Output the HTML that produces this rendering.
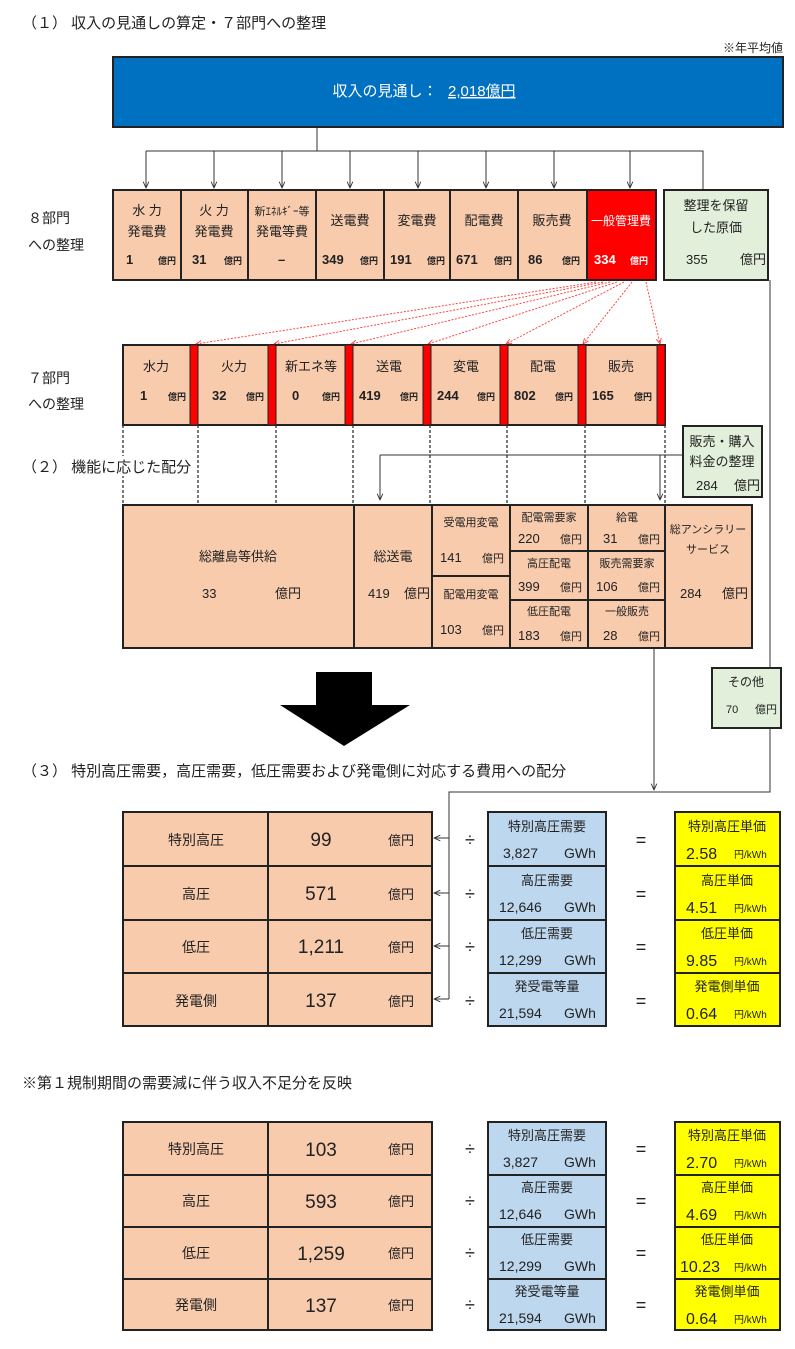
<!DOCTYPE html>
<html><head><meta charset="utf-8"><style>
body{margin:0;background:#fff;}
svg text{font-family:"Liberation Sans","Noto Sans CJK JP",sans-serif;fill:#222;}
</style></head><body>
<svg width="795" height="1344" viewBox="0 0 795 1344" xmlns="http://www.w3.org/2000/svg">
<defs>
<marker id="ar" viewBox="0 0 10 10" refX="9" refY="5" markerWidth="7" markerHeight="7" orient="auto"><path d="M0,1 L9,5 L0,9" fill="none" stroke="#333" stroke-width="1.3"/></marker>
<marker id="rr" viewBox="0 0 10 10" refX="9" refY="5" markerWidth="7" markerHeight="7" orient="auto"><path d="M0,1 L9,5 L0,9" fill="none" stroke="#f33" stroke-width="1.3"/></marker>
</defs>
<text x="22" y="28" font-size="15">（１） 収入の見通しの算定・７部門への整理</text>
<text x="783" y="52" font-size="12" text-anchor="end">※年平均値</text>
<rect x="113" y="57" width="670" height="70" fill="#0070c0" stroke="#222" stroke-width="2"/>
<text x="385" y="96" font-size="15" text-anchor="middle" style="fill:#fff">収入の見通し：</text>
<text x="448" y="96" font-size="15" style="fill:#fff" text-decoration="underline">2,018億円</text>
<g stroke="#333" stroke-width="1" fill="none">
<path d="M317,127 V151 M146,151 H703 V190"/>
</g>
<g stroke="#333" stroke-width="1" fill="none" marker-end="url(#ar)">
<path d="M146,151 V188"/><path d="M214,151 V188"/><path d="M282,151 V188"/><path d="M350,151 V188"/><path d="M418,151 V188"/><path d="M486,151 V188"/><path d="M554,151 V188"/><path d="M630,151 V188"/>
</g>
<!-- 8 depts -->
<g stroke="#222" stroke-width="2">
<rect x="113" y="190" width="474" height="90" fill="#f8cbad"/>
<rect x="587" y="190" width="69" height="90" fill="#ff0000"/>
<path d="M181,190 V280 M248,190 V280 M316,190 V280 M384,190 V280 M450,190 V280 M518,190 V280"/>
<rect x="664" y="190" width="104" height="90" fill="#e2efda"/>
</g>
<text x="28" y="223" font-size="14">８部門</text>
<text x="28" y="250" font-size="14">への整理</text>
<g font-size="13" text-anchor="middle">
<text x="147" y="215">水 力</text><text x="147" y="236">発電費</text>
<text x="214" y="215">火 力</text><text x="214" y="236">発電費</text>
<text x="282" y="215" font-size="11">新ｴﾈﾙｷﾞｰ等</text><text x="282" y="236">発電等費</text>
<text x="350" y="225">送電費</text><text x="417" y="225">変電費</text><text x="484" y="225">配電費</text><text x="552" y="225">販売費</text>
<text x="621" y="225" font-size="12" style="fill:#fff">一般管理費</text>
<text x="716" y="210">整理を保留</text><text x="716" y="232">した原価</text>
</g>
<g font-size="13" font-weight="bold">
<text x="126" y="264">1</text><text x="192" y="264">31</text><text x="278" y="264">–</text><text x="322" y="264">349</text><text x="390" y="264">191</text><text x="456" y="264">671</text><text x="528" y="264">86</text><text x="594" y="264" style="fill:#fff">334</text>
</g>
<g font-size="9" font-weight="bold">
<text x="158" y="264">億円</text><text x="224" y="264">億円</text><text x="360" y="264">億円</text><text x="427" y="264">億円</text><text x="494" y="264">億円</text><text x="562" y="264">億円</text><text x="630" y="264" style="fill:#fff">億円</text>
</g>
<text x="686" y="264" font-size="13">355</text><text x="740" y="264" font-size="13">億円</text>
<!-- red dotted arrows -->
<g stroke="#f33" stroke-width="0.9" stroke-dasharray="2,1.5" fill="none" marker-end="url(#rr)">
<path d="M596,282 L196,344"/><path d="M603,282 L274,344"/><path d="M610,282 L351,344"/><path d="M617,282 L428,344"/><path d="M624,282 L506,344"/><path d="M632,282 L583,344"/><path d="M646,282 L660,344"/>
</g>
<!-- 7 depts -->
<text x="28" y="383" font-size="14">７部門</text>
<text x="28" y="409" font-size="14">への整理</text>
<g stroke="#222" stroke-width="2">
<rect x="123" y="345" width="542" height="80" fill="#f8cbad"/>
</g>
<g fill="#ff0000" stroke="#222" stroke-width="1">
<rect x="190" y="345" width="8" height="80"/><rect x="268" y="345" width="8" height="80"/><rect x="345" y="345" width="8" height="80"/><rect x="423" y="345" width="8" height="80"/><rect x="500" y="345" width="8" height="80"/><rect x="578" y="345" width="8" height="80"/><rect x="657" y="345" width="8" height="80"/>
</g>
<g font-size="13" text-anchor="middle">
<text x="156" y="371">水力</text><text x="234" y="371">火力</text><text x="311" y="371">新エネ等</text><text x="389" y="371">送電</text><text x="466" y="371">変電</text><text x="543" y="371">配電</text><text x="621" y="371">販売</text>
</g>
<g font-size="13" font-weight="bold">
<text x="140" y="400">1</text><text x="212" y="400">32</text><text x="292" y="400">0</text><text x="359" y="400">419</text><text x="437" y="400">244</text><text x="514" y="400">802</text><text x="592" y="400">165</text>
</g>
<g font-size="9" font-weight="bold">
<text x="168" y="400">億円</text><text x="246" y="400">億円</text><text x="322" y="400">億円</text><text x="400" y="400">億円</text><text x="477" y="400">億円</text><text x="555" y="400">億円</text><text x="634" y="400">億円</text>
</g>
<g stroke="#222" stroke-width="1.2" stroke-dasharray="3,2">
<path d="M123,425 V505 M198,425 V505 M276,425 V505 M353,425 V505 M430,425 V505 M507,425 V505 M585,425 V505 M665,425 V505"/>
</g>
<rect x="20" y="456" width="172" height="20" fill="#fff"/>
<text x="22" y="472" font-size="15">（２） 機能に応じた配分</text>
<!-- connectors -->
<g stroke="#333" stroke-width="1" fill="none">
<path d="M770,280 V668 M770,728 V792 H449 V999"/>
<path d="M683,455 H380"/>
</g>
<g stroke="#333" stroke-width="1" fill="none" marker-end="url(#ar)">
<path d="M380,455 V500"/>
<path d="M660,455 V500"/>
<path d="M654,648 V790"/>
<path d="M449,838 H434"/><path d="M449,893 H434"/><path d="M449,946 H434"/><path d="M449,999 H434"/>
</g>
<rect x="683" y="426" width="79" height="71" fill="#e2efda" stroke="#222" stroke-width="2"/>
<g font-size="13" text-anchor="middle"><text x="722" y="446">販売・購入</text><text x="722" y="466">料金の整理</text></g>
<text x="696" y="490" font-size="13">284</text><text x="734" y="490" font-size="13">億円</text>
<!-- function row -->
<g stroke="#222" stroke-width="2" fill="#f8cbad">
<rect x="123" y="505" width="629" height="143"/>
<path d="M354,505 V648 M432,505 V648 M510,505 V648 M588,505 V648 M665,505 V648 M432,576 H510 M510,551 H665 M510,600 H665" fill="none"/>
</g>
<g font-size="13" text-anchor="middle">
<text x="238" y="561">総離島等供給</text>
<text x="393" y="561">総送電</text>
<text x="471" y="526" font-size="11">受電用変電</text>
<text x="471" y="598" font-size="11">配電用変電</text>
<text x="549" y="521" font-size="11">配電需要家</text>
<text x="627" y="521" font-size="11">給電</text>
<text x="549" y="567" font-size="11">高圧配電</text>
<text x="627" y="567" font-size="11">販売需要家</text>
<text x="549" y="615" font-size="11">低圧配電</text>
<text x="627" y="615" font-size="11">一般販売</text>
<text x="708" y="533" font-size="11">総アンシラリー</text>
<text x="708" y="553" font-size="11">サービス</text>
</g>
<g font-size="13">
<text x="202" y="598">33</text><text x="275" y="598">億円</text>
<text x="368" y="598">419</text><text x="404" y="598">億円</text>
<text x="440" y="562">141</text><text x="482" y="562" font-size="11">億円</text>
<text x="440" y="634">103</text><text x="482" y="634" font-size="11">億円</text>
<text x="518" y="543">220</text><text x="560" y="543" font-size="11">億円</text>
<text x="518" y="591">399</text><text x="560" y="591" font-size="11">億円</text>
<text x="518" y="640">183</text><text x="560" y="640" font-size="11">億円</text>
<text x="603" y="543">31</text><text x="638" y="543" font-size="11">億円</text>
<text x="596" y="591">106</text><text x="638" y="591" font-size="11">億円</text>
<text x="603" y="640">28</text><text x="638" y="640" font-size="11">億円</text>
<text x="680" y="598">284</text><text x="722" y="598">億円</text>
</g>
<!-- その他 -->
<rect x="712" y="668" width="69" height="60" fill="#e2efda" stroke="#222" stroke-width="2"/>
<text x="746" y="686" font-size="12" text-anchor="middle">その他</text>
<text x="726" y="713" font-size="11">70</text><text x="755" y="713" font-size="11">億円</text>
<!-- big arrow -->
<polygon points="316,672 372,672 372,705 410,705 344,746 280,705 316,705" fill="#000"/>
<text x="22" y="776" font-size="15">（３） 特別高圧需要，高圧需要，低圧需要および発電側に対応する費用への配分</text>
<!-- table 1 -->
<g stroke="#222" stroke-width="2">
<rect x="123" y="812" width="309" height="214" fill="#f8cbad"/>
<path d="M268,812 V1026 M123,866 H432 M123,920 H432 M123,973 H432"/>
<rect x="488" y="812" width="118" height="214" fill="#bdd7ee"/>
<path d="M488,866 H606 M488,920 H606 M488,973 H606"/>
<rect x="675" y="812" width="105" height="214" fill="#ffff00"/>
<path d="M675,866 H780 M675,920 H780 M675,973 H780"/>
</g>
<!-- table 2 -->
<g stroke="#222" stroke-width="2">
<rect x="123" y="1122" width="309" height="208" fill="#f8cbad"/>
<path d="M268,1122 V1330 M123,1175 H432 M123,1227 H432 M123,1279 H432"/>
<rect x="488" y="1122" width="118" height="208" fill="#bdd7ee"/>
<path d="M488,1175 H606 M488,1227 H606 M488,1279 H606"/>
<rect x="675" y="1122" width="105" height="208" fill="#ffff00"/>
<path d="M675,1175 H780 M675,1227 H780 M675,1279 H780"/>
</g>
<text x="22" y="1088" font-size="15">※第１規制期間の需要減に伴う収入不足分を反映</text>
<g font-size="14" text-anchor="middle">
<text x="196" y="845">特別高圧</text><text x="196" y="899">高圧</text><text x="196" y="952">低圧</text><text x="196" y="1006">発電側</text>
<text x="196" y="1154">特別高圧</text><text x="196" y="1206">高圧</text><text x="196" y="1258">低圧</text><text x="196" y="1310">発電側</text>
</g>
<g font-size="19" text-anchor="middle">
<text x="321" y="846">99</text><text x="321" y="900">571</text><text x="321" y="953">1,211</text><text x="321" y="1007">137</text>
<text x="321" y="1156">103</text><text x="321" y="1208">593</text><text x="321" y="1260">1,259</text><text x="321" y="1312">137</text>
</g>
<g font-size="13">
<text x="388" y="845">億円</text><text x="388" y="899">億円</text><text x="388" y="952">億円</text><text x="388" y="1006">億円</text>
<text x="388" y="1154">億円</text><text x="388" y="1206">億円</text><text x="388" y="1258">億円</text><text x="388" y="1310">億円</text>
</g>
<g font-size="18" text-anchor="middle">
<text x="470" y="846">÷</text><text x="470" y="900">÷</text><text x="470" y="953">÷</text><text x="470" y="1007">÷</text>
<text x="470" y="1155">÷</text><text x="470" y="1207">÷</text><text x="470" y="1259">÷</text><text x="470" y="1311">÷</text>
<text x="641" y="846">=</text><text x="641" y="900">=</text><text x="641" y="953">=</text><text x="641" y="1007">=</text>
<text x="641" y="1155">=</text><text x="641" y="1207">=</text><text x="641" y="1259">=</text><text x="641" y="1311">=</text>
</g>
<g font-size="13" text-anchor="middle">
<text x="547" y="831">特別高圧需要</text><text x="547" y="885">高圧需要</text><text x="547" y="938">低圧需要</text><text x="547" y="991">発受電等量</text>
<text x="547" y="1140">特別高圧需要</text><text x="547" y="1192">高圧需要</text><text x="547" y="1244">低圧需要</text><text x="547" y="1296">発受電等量</text>
<text x="727" y="831">特別高圧単価</text><text x="727" y="885">高圧単価</text><text x="727" y="938">低圧単価</text><text x="727" y="991">発電側単価</text>
<text x="727" y="1140">特別高圧単価</text><text x="727" y="1192">高圧単価</text><text x="727" y="1244">低圧単価</text><text x="727" y="1296">発電側単価</text>
</g>
<g font-size="14">
<text x="503" y="858">3,827</text><text x="499" y="912">12,646</text><text x="499" y="965">12,299</text><text x="499" y="1018">21,594</text>
<text x="503" y="1167">3,827</text><text x="499" y="1219">12,646</text><text x="499" y="1271">12,299</text><text x="499" y="1323">21,594</text>
<text x="564" y="858">GWh</text><text x="564" y="912">GWh</text><text x="564" y="965">GWh</text><text x="564" y="1018">GWh</text>
<text x="564" y="1167">GWh</text><text x="564" y="1219">GWh</text><text x="564" y="1271">GWh</text><text x="564" y="1323">GWh</text>
</g>
<g font-size="16">
<text x="686" y="859">2.58</text><text x="686" y="913">4.51</text><text x="686" y="966">9.85</text><text x="686" y="1019">0.64</text>
<text x="686" y="1168">2.70</text><text x="686" y="1220">4.69</text><text x="680" y="1272">10.23</text><text x="686" y="1324">0.64</text>
</g>
<g font-size="10">
<text x="734" y="858">円/kWh</text><text x="734" y="912">円/kWh</text><text x="734" y="965">円/kWh</text><text x="734" y="1018">円/kWh</text>
<text x="734" y="1167">円/kWh</text><text x="734" y="1219">円/kWh</text><text x="734" y="1271">円/kWh</text><text x="734" y="1323">円/kWh</text>
</g>
</svg>
</body></html>
